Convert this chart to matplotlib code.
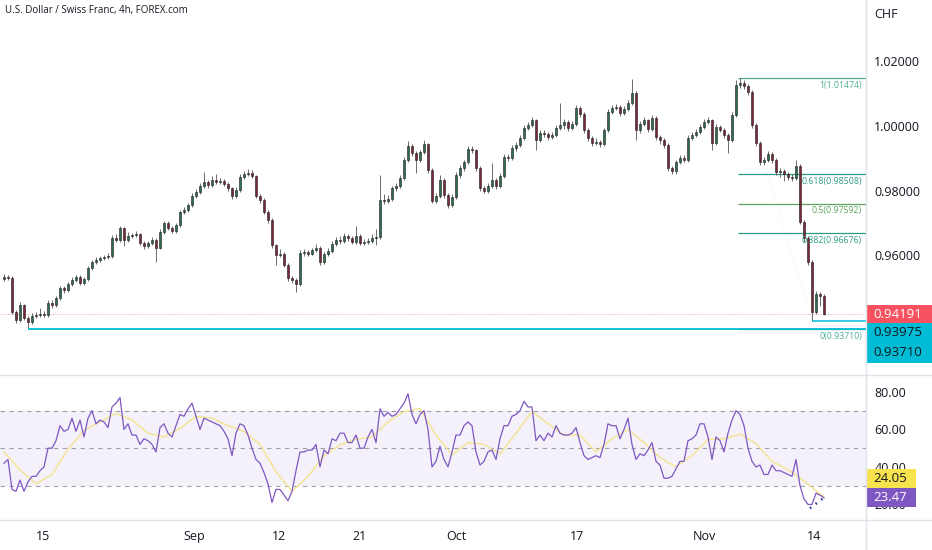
import numpy as np
import matplotlib.pyplot as plt
from matplotlib.patches import Rectangle

plt.rcParams['font.family'] = ['Open Sans', 'DejaVu Sans']

title = 'U.S. Dollar / Swiss Franc, 4h, FOREX.com'

# 4h candles (roughly one every 8h), open = previous close
first_open = 0.9525
closes = [
    0.9532, 0.9529, 0.9424, 0.9399, 0.9446, 0.9405, 0.9393, 0.9412, 0.9415, 0.9418,
    0.9415, 0.9452, 0.9446, 0.9467, 0.9498, 0.9492, 0.9511, 0.9523, 0.9532, 0.9514,
    0.9526, 0.9560, 0.9579, 0.9585, 0.9591, 0.9594, 0.9597, 0.9653, 0.9647, 0.9684,
    0.9647, 0.9659, 0.9662, 0.9665, 0.9638, 0.9628, 0.9638, 0.9647, 0.9622, 0.9672,
    0.9700, 0.9684, 0.9675, 0.9693, 0.9734, 0.9740, 0.9755, 0.9783, 0.9796, 0.9814,
    0.9827, 0.9817, 0.9833, 0.9827, 0.9830, 0.9820, 0.9808, 0.9783, 0.9802, 0.9842,
    0.9851, 0.9854, 0.9845, 0.9783, 0.9771, 0.9734, 0.9709, 0.9631, 0.9601, 0.9604,
    0.9570, 0.9529, 0.9523, 0.9511, 0.9607, 0.9610, 0.9605, 0.9616, 0.9622, 0.9579,
    0.9604, 0.9613, 0.9635, 0.9647, 0.9644, 0.9659, 0.9653, 0.9641, 0.9659, 0.9638,
    0.9641, 0.9643, 0.9653, 0.9656, 0.9771, 0.9768, 0.9774, 0.9808, 0.9814, 0.9839,
    0.9895, 0.9938, 0.9916, 0.9895, 0.9919, 0.9944, 0.9864, 0.9768, 0.9783, 0.9833,
    0.9786, 0.9755, 0.9780, 0.9848, 0.9870, 0.9888, 0.9929, 0.9926, 0.9870, 0.9808,
    0.9799, 0.9814, 0.9833, 0.9814, 0.9845, 0.9904, 0.9901, 0.9932, 0.9941, 0.9963,
    0.9994, 1.0003, 1.0018, 0.9957, 0.9978, 0.9975, 0.9966, 0.9972, 0.9994, 1.0003,
    1.0012, 0.9994, 1.0006, 1.0056, 1.0037, 0.9988, 0.9963, 0.9947, 0.9950, 0.9944,
    0.9988, 1.0043, 1.0056, 1.0059, 1.0040, 1.0053, 1.0071, 1.0102, 0.9988, 1.0006,
    1.0018, 0.9991, 1.0025, 0.9966, 0.9957, 0.9941, 0.9870, 0.9861, 0.9888, 0.9901,
    0.9895, 0.9963, 0.9972, 0.9981, 0.9997, 1.0012, 1.0018, 0.9947, 0.9997, 0.9988,
    0.9972, 0.9957, 1.0034, 1.0127, 1.0133, 1.0124, 1.0105, 1.0003, 0.9947, 0.9888,
    0.9895, 0.9913, 0.9895, 0.9857, 0.9861, 0.9851, 0.9842, 0.9839, 0.9876, 0.9703,
    0.9653, 0.9579, 0.9424, 0.9480, 0.9474, 0.94191,
]
highs = [
    0.9541, 0.9540, 0.9534, 0.9430, 0.9455, 0.9450, 0.9411, 0.9420, 0.9424, 0.9437,
    0.9426, 0.9460, 0.9461, 0.9474, 0.9506, 0.9505, 0.9518, 0.9531, 0.9540, 0.9538,
    0.9533, 0.9567, 0.9585, 0.9594, 0.9598, 0.9601, 0.9606, 0.9662, 0.9667, 0.9690,
    0.9688, 0.9671, 0.9670, 0.9674, 0.9669, 0.9643, 0.9645, 0.9655, 0.9652, 0.9680,
    0.9707, 0.9705, 0.9690, 0.9700, 0.9741, 0.9749, 0.9762, 0.9791, 0.9804, 0.9822,
    0.9857, 0.9834, 0.9845, 0.9851, 0.9838, 0.9836, 0.9826, 0.9812, 0.9810, 0.9850,
    0.9861, 0.9866, 0.9864, 0.9849, 0.9789, 0.9776, 0.9740, 0.9714, 0.9636, 0.9618,
    0.9610, 0.9576, 0.9536, 0.9530, 0.9616, 0.9620, 0.9617, 0.9623, 0.9634, 0.9628,
    0.9611, 0.9622, 0.9643, 0.9655, 0.9660, 0.9668, 0.9665, 0.9660, 0.9690, 0.9664,
    0.9650, 0.9652, 0.9665, 0.9680, 0.9848, 0.9790, 0.9786, 0.9815, 0.9823, 0.9847,
    0.9903, 0.9952, 0.9944, 0.9921, 0.9927, 0.9956, 0.9948, 0.9870, 0.9792, 0.9848,
    0.9838, 0.9792, 0.9788, 0.9856, 0.9878, 0.9896, 0.9938, 0.9937, 0.9930, 0.9875,
    0.9814, 0.9822, 0.9886, 0.9840, 0.9853, 0.9912, 0.9912, 0.9940, 0.9950, 0.9972,
    1.0003, 1.0012, 1.0027, 1.0023, 0.9988, 0.9986, 0.9981, 0.9980, 1.0003, 1.0071,
    1.0021, 1.0018, 1.0014, 1.0064, 1.0062, 1.0042, 0.9993, 0.9970, 0.9962, 0.9957,
    0.9995, 1.0051, 1.0064, 1.0068, 1.0064, 1.0061, 1.0080, 1.0145, 1.0108, 1.0015,
    1.0027, 1.0023, 1.0034, 1.0030, 0.9972, 0.9962, 0.9946, 0.9876, 0.9896, 0.9909,
    0.9910, 0.9971, 0.9981, 0.9990, 1.0006, 1.0021, 1.0027, 1.0023, 1.0005, 1.0003,
    0.9994, 0.9978, 1.0043, 1.0142, 1.0147, 1.0142, 1.0130, 1.0111, 1.0009, 0.9953,
    0.9904, 0.9922, 0.9920, 0.9901, 0.9870, 0.9868, 0.9858, 0.9850, 0.9895, 0.9881,
    0.9710, 0.9660, 0.9585, 0.9488, 0.9487, 0.9480,
]
lows = [
    0.9519, 0.9522, 0.9418, 0.9390, 0.9394, 0.9398, 0.9371, 0.9386, 0.9405, 0.9409,
    0.9408, 0.9410, 0.9437, 0.9440, 0.9461, 0.9484, 0.9487, 0.9503, 0.9517, 0.9508,
    0.9507, 0.9520, 0.9554, 0.9573, 0.9578, 0.9584, 0.9588, 0.9592, 0.9640, 0.9641,
    0.9628, 0.9640, 0.9652, 0.9655, 0.9630, 0.9620, 0.9622, 0.9631, 0.9579, 0.9618,
    0.9666, 0.9677, 0.9668, 0.9669, 0.9688, 0.9728, 0.9733, 0.9749, 0.9777, 0.9790,
    0.9809, 0.9808, 0.9811, 0.9820, 0.9819, 0.9813, 0.9800, 0.9775, 0.9778, 0.9797,
    0.9836, 0.9844, 0.9838, 0.9776, 0.9763, 0.9727, 0.9700, 0.9622, 0.9570, 0.9593,
    0.9562, 0.9520, 0.9514, 0.9486, 0.9505, 0.9598, 0.9596, 0.9600, 0.9610, 0.9570,
    0.9572, 0.9597, 0.9606, 0.9628, 0.9636, 0.9638, 0.9645, 0.9634, 0.9636, 0.9630,
    0.9631, 0.9633, 0.9637, 0.9630, 0.9650, 0.9757, 0.9760, 0.9768, 0.9800, 0.9808,
    0.9833, 0.9889, 0.9908, 0.9854, 0.9889, 0.9913, 0.9855, 0.9760, 0.9761, 0.9777,
    0.9778, 0.9746, 0.9750, 0.9775, 0.9840, 0.9862, 0.9882, 0.9917, 0.9862, 0.9800,
    0.9791, 0.9793, 0.9808, 0.9806, 0.9808, 0.9839, 0.9893, 0.9895, 0.9924, 0.9935,
    0.9957, 0.9986, 0.9996, 0.9926, 0.9950, 0.9966, 0.9958, 0.9960, 0.9966, 0.9988,
    0.9990, 0.9985, 0.9987, 1.0000, 1.0029, 0.9979, 0.9954, 0.9938, 0.9940, 0.9935,
    0.9938, 0.9982, 1.0036, 1.0049, 1.0032, 1.0033, 1.0046, 1.0065, 0.9957, 0.9978,
    0.9999, 0.9982, 0.9985, 0.9957, 0.9945, 0.9932, 0.9861, 0.9852, 0.9852, 0.9881,
    0.9887, 0.9889, 0.9955, 0.9965, 0.9974, 0.9990, 1.0005, 0.9926, 0.9940, 0.9980,
    0.9964, 0.9916, 0.9950, 1.0027, 1.0119, 1.0115, 1.0096, 0.9994, 0.9938, 0.9879,
    0.9880, 0.9887, 0.9886, 0.9848, 0.9842, 0.9830, 0.9833, 0.9830, 0.9832, 0.9695,
    0.9640, 0.9570, 0.93975, 0.9418, 0.9443, 0.9414,
]

# RSI(14) per candle and its moving average (sampled every 4 candles + last)
rsi = [
    42, 44, 28, 27, 33, 27, 32, 35, 35, 38,
    40, 50, 50, 54, 62, 59, 60, 66, 59, 65,
    56, 66, 70, 63, 65, 64, 61, 72, 74, 77,
    60, 63, 57, 57, 52, 55, 54, 52, 48, 61,
    63, 58, 56, 62, 68, 67, 71, 74, 67, 60,
    66, 65, 64, 63, 62, 59, 55, 46, 58, 63,
    62, 57, 50, 44, 42, 37, 31, 21, 28, 28,
    25, 22, 27, 38, 48, 48, 49, 49, 52, 40,
    49, 47, 55, 54, 58, 58, 53, 53, 57, 50,
    50, 56, 60, 53, 71, 67, 69, 67, 68, 71,
    74, 79, 68, 63, 68, 70, 60, 40, 43, 51,
    44, 40, 48, 57, 57, 62, 64, 62, 48, 41,
    43, 48, 49, 44, 55, 62, 62, 67, 68, 70,
    75, 72, 72, 54, 57, 54, 58, 56, 62, 58,
    57, 57, 58, 61, 53, 46, 44, 45, 46, 45,
    52, 63, 62, 62, 55, 60, 66, 52, 44, 47,
    46, 49, 53, 43, 41, 34, 34, 35, 39, 43,
    43, 54, 55, 57, 63, 63, 56, 44, 56, 54,
    48, 58, 65, 70, 68, 62, 50, 43, 40, 41,
    36, 36, 41, 38, 38, 37, 36, 35, 44, 30,
    23, 20, 20, 26, 25, 23.47,
]
rsi_ma = [
    48, 38.4, 31, 36, 49.5, 59.5, 64, 68.5, 65, 58,
    56, 60.5, 67, 66, 62, 59, 52, 37.5, 27, 35,
    46, 51.8, 54.8, 56, 64, 69.5, 71.2, 57, 46.5, 53,
    52, 47, 58, 69.5, 63, 57, 57, 48, 55, 60,
    53, 45, 40, 46, 54.6, 55, 57.5, 52.5, 43, 38.5,
    32.5, 25.5, 24.05,
]
ma_step = 4

date_labels = ['15', 'Sep', '12', '21', 'Oct', '17', 'Nov', '14']
date_bars = [9.75, 47.5, 68.75, 89, 113, 143.25, 175, 202.5]

# fib retracement drawn from the Nov high to the Aug low
fib_ratio = ['1', '0.618', '0.5', '0.382', '0']
fib_price = [1.01474, 0.98508, 0.97592, 0.96676, 0.93710]
fib_colors = ['#4fae92', '#2c9c86', '#5aa45c', '#2c9c86', '#4fae92']
fib_start = 183.5
fib_end = 202.75

aug_low, aug_low_bar = 0.93710, 6
nov_low, nov_low_bar = 0.93975, 202
rsi_dots_x = [201.5, 205.25]
rsi_dots_y = [18, 24]

W, H = 932, 550
fig = plt.figure(figsize=(W / 100, H / 100), dpi=100)
ax = fig.add_axes([0, 1 - 374 / H, 866 / W, 374 / H])
ax2 = fig.add_axes([0, 1 - 520 / H, 866 / W, 144 / H], sharex=ax)

x = np.arange(len(closes))
c = np.array(closes)
o = np.r_[first_open, c[:-1]]
up = c >= o
body_lo = np.minimum(o, c)
body_h = np.maximum(np.abs(c - o), 0.00015)

ax.vlines(x, lows, highs, color='#555555', lw=0.6, zorder=2)
ax.bar(x[up], body_h[up], bottom=body_lo[up], width=0.62, color='#2f6e4c',
       edgecolor='#1b1b1b', lw=0.4, zorder=3)
ax.bar(x[~up], body_h[~up], bottom=body_lo[~up], width=0.62, color='#7c2738',
       edgecolor='#1b1b1b', lw=0.4, zorder=3)

xmax = 215.5
ax.set_xlim(-1, xmax)
ax.set_ylim(0.9232, 1.0390)

# last price line
ax.axhline(closes[-1], color='#f23645', lw=0.6, ls=(0, (1, 2)), alpha=0.6, zorder=1)

# fib levels
ax.plot([fib_start, fib_end], [fib_price[0], fib_price[-1]], color='#d0d0d0',
        lw=0.5, ls=(0, (2, 3)), alpha=0.5, zorder=1)
for r, p, col in zip(fib_ratio, fib_price, fib_colors):
    ax.hlines(p, fib_start, xmax, color=col, lw=0.9, zorder=1)
    ax.text(214.5, p - 0.0022, f'{r}({p:.5f})', color=col, fontsize=6.3,
            ha='right', va='center')

# horizontal rays at the lows
ax.hlines(aug_low, aug_low_bar, xmax, color='#00bcd4', lw=1.3, zorder=4)
ax.hlines(nov_low, nov_low_bar, xmax, color='#00bcd4', lw=1.1, zorder=4)

ax.yaxis.tick_right()
ax.set_yticks([0.96, 0.98, 1.00, 1.02])
ax.set_yticklabels([f'{v:.5f}' for v in [0.96, 0.98, 1.00, 1.02]])
ax.tick_params(axis='y', length=0, pad=6, labelsize=9, labelcolor='#131722')
ax.tick_params(axis='x', bottom=False, labelbottom=False)
for s in ax.spines.values():
    s.set_visible(False)

# RSI panel
ax2.set_ylim(11.7, 88.5)
ax2.axhspan(30, 70, color='#7e57c2', alpha=0.08, lw=0)
for lvl in [70, 50, 30]:
    ax2.axhline(lvl, color='#787b86', lw=0.8, ls=(0, (4, 4)), alpha=0.7)
ma_x = np.r_[np.arange(0, len(closes) - 1, ma_step), len(closes) - 1]
ax2.plot(ma_x, rsi_ma, color='#f3e48e', lw=1.0)
ax2.plot(x, rsi, color='#7e57c2', lw=0.9)
ax2.plot(rsi_dots_x, rsi_dots_y, color='#1f2a8c', lw=1.8, ls=(0, (0.6, 2.2)))

ax2.yaxis.tick_right()
ax2.set_yticks([20, 40, 60, 80])
ax2.set_yticklabels([f'{v:.2f}' for v in [20, 40, 60, 80]])
ax2.tick_params(axis='y', length=0, pad=6, labelsize=9, labelcolor='#131722')
ax2.set_xticks(date_bars)
ax2.set_xticklabels(date_labels)
ax2.tick_params(axis='x', length=0, pad=7, labelsize=9, labelcolor='#131722')
for s in ax2.spines.values():
    s.set_visible(False)

# panel separators
fig.add_artist(plt.Line2D([866 / W, 866 / W], [0, 1], color='#e0e3eb', lw=1))
for yy in [375, 520]:
    fig.add_artist(plt.Line2D([0, 1], [1 - yy / H, 1 - yy / H], color='#e0e3eb', lw=1))


def tag(y0, y1, x1, color):
    fig.add_artist(Rectangle((867 / W, 1 - y1 / H), (x1 - 867) / W, (y1 - y0) / H,
                             transform=fig.transFigure, color=color, lw=0))


tag(305, 323, 932, '#f7525f')
tag(323, 363, 932, '#00bcd4')
tag(469, 488, 916, '#f7e34d')
tag(488, 507, 916, '#7e57c2')
fig.text(873 / W, 1 - 314 / H, f'{closes[-1]:.5f}', color='white', fontsize=9.5, va='center')
fig.text(873 / W, 1 - 333 / H, f'{nov_low:.5f}', color='#131722', fontsize=9.5, va='center')
fig.text(873 / W, 1 - 353 / H, f'{aug_low:.5f}', color='#131722', fontsize=9.5, va='center')
fig.text(873 / W, 1 - 478.5 / H, f'{rsi_ma[-1]:.2f}', color='#131722', fontsize=9.5, va='center')
fig.text(873 / W, 1 - 497.5 / H, f'{rsi[-1]:.2f}', color='white', fontsize=9.5, va='center')

fig.text(874 / W, 1 - 14 / H, 'CHF', color='#131722', fontsize=9, va='center')
fig.text(5 / W, 1 - 11 / H, title, color='#131722', fontsize=7, va='center')

fig.savefig('out.png', dpi=100)
